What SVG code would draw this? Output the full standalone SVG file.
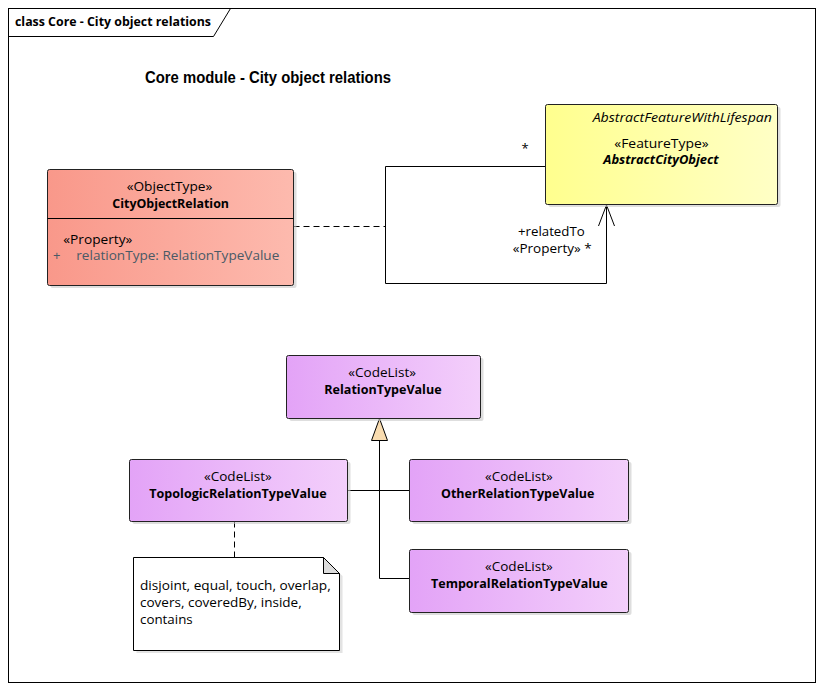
<svg xmlns="http://www.w3.org/2000/svg" width="824" height="690" viewBox="0 0 824 690">
<style>
text{font-family:"Open Sans","Noto Sans","DejaVu Sans",sans-serif;font-size:13px;fill:#000}
.b{font-weight:bold}
.c{text-anchor:middle}
.g{fill:#4a5a66}
.box{stroke:#222;stroke-width:1}
.sh{fill:#c8c8c8;opacity:0.6}
.ln{fill:none;stroke:#000;stroke-width:1}
.dash{fill:none;stroke:#000;stroke-width:1;stroke-dasharray:6,4}
</style>
<defs>
<linearGradient id="gr" x1="0" y1="0" x2="1" y2="0"><stop offset="0" stop-color="#f9988a"/><stop offset="1" stop-color="#fdbaae"/></linearGradient>
<linearGradient id="gy" x1="0" y1="0" x2="1" y2="0"><stop offset="0" stop-color="#ffff8e"/><stop offset="1" stop-color="#ffffc6"/></linearGradient>
<linearGradient id="gp" x1="0" y1="0" x2="1" y2="0"><stop offset="0" stop-color="#e3a3f7"/><stop offset="1" stop-color="#f3cffb"/></linearGradient>
</defs>
<rect x="0" y="0" width="824" height="690" fill="#fff"/>
<g id="frame">
<rect x="8.5" y="8.5" width="807" height="674" fill="none" stroke="#000"/>
<path d="M8.5 36.5 H213.5 L230.5 8.5" class="ln"/>
<text x="15" y="25.5" class="b" textLength="196" lengthAdjust="spacingAndGlyphs">class Core - City object relations</text>
</g>
<text x="145" y="82.5" style="font-family:'Liberation Sans',Arial,sans-serif;font-size:16.5px;font-weight:bold" textLength="246" lengthAdjust="spacingAndGlyphs">Core module - City object relations</text>
<g id="connectors">
<path d="M293.5 226.5 H385.5" class="dash"/>
<path d="M545.5 166.5 H385.5 V283.5 H606.5 V205" class="ln"/>
<path d="M598.5 226 L606.5 205 L614.5 226" class="ln"/>
<text x="525" y="153" class="c">*</text>
<text x="518" y="235.5" textLength="66.7" lengthAdjust="spacingAndGlyphs">+relatedTo</text>
<text x="512.7" y="252.5" textLength="79" lengthAdjust="spacingAndGlyphs">«Property» *</text>
<path d="M379.5 440 V578.5 H409.5" class="ln"/>
<path d="M348 490.5 H409.5" class="ln"/>
<path d="M379.5 418.5 L371.5 440.5 H387.5 Z" fill="#f9dcb0" stroke="#000"/>
<path d="M234.5 521.5 V557.5" class="dash"/>
</g>
<g id="CityObjectRelation">
<rect x="50.5" y="172" width="246" height="116" rx="2" class="sh"/>
<rect x="47.5" y="169.5" width="246" height="116" rx="2" fill="url(#gr)" class="box"/>
<path d="M47.5 218.5 H293.5" class="ln"/>
<text x="126.7" y="191" textLength="85.6" lengthAdjust="spacingAndGlyphs">«ObjectType»</text>
<text x="112.3" y="207.5" class="b" textLength="116.7" lengthAdjust="spacingAndGlyphs">CityObjectRelation</text>
<text x="63.3" y="243.5" textLength="69" lengthAdjust="spacingAndGlyphs">«Property»</text>
<text x="53" y="260" class="g">+</text>
<text x="76.3" y="260" class="g" textLength="203" lengthAdjust="spacingAndGlyphs">relationType: RelationTypeValue</text>
</g>
<g id="AbstractCityObject">
<rect x="548.5" y="107" width="232" height="100" rx="2" class="sh"/>
<rect x="545.5" y="104.5" width="232" height="100" rx="2" fill="url(#gy)" class="box"/>
<text x="592.7" y="122" font-style="italic" textLength="179.3" lengthAdjust="spacingAndGlyphs">AbstractFeatureWithLifespan</text>
<text x="614.3" y="147.5" textLength="94.3" lengthAdjust="spacingAndGlyphs">«FeatureType»</text>
<text x="603.3" y="164" class="b" font-style="italic" textLength="115.3" lengthAdjust="spacingAndGlyphs">AbstractCityObject</text>
</g>
<g id="RelationTypeValue">
<rect x="289.5" y="358" width="194" height="63" rx="2" class="sh"/>
<rect x="286.5" y="355.5" width="194" height="63" rx="2" fill="url(#gp)" class="box"/>
<text x="348.3" y="376.5" textLength="67.7" lengthAdjust="spacingAndGlyphs">«CodeList»</text>
<text x="324.3" y="393.5" class="b" textLength="117.3" lengthAdjust="spacingAndGlyphs">RelationTypeValue</text>
</g>
<g id="TopologicRelationTypeValue">
<rect x="132.5" y="462" width="218" height="62" rx="2" class="sh"/>
<rect x="129.5" y="459.5" width="218" height="62" rx="2" fill="url(#gp)" class="box"/>
<text x="204" y="481" textLength="67.7" lengthAdjust="spacingAndGlyphs">«CodeList»</text>
<text x="149.3" y="498" class="b" textLength="177.3" lengthAdjust="spacingAndGlyphs">TopologicRelationTypeValue</text>
</g>
<g id="OtherRelationTypeValue">
<rect x="412.5" y="462" width="219" height="62" rx="2" class="sh"/>
<rect x="409.5" y="459.5" width="219" height="62" rx="2" fill="url(#gp)" class="box"/>
<text x="485" y="481" textLength="67.7" lengthAdjust="spacingAndGlyphs">«CodeList»</text>
<text x="441" y="498" class="b" textLength="153.3" lengthAdjust="spacingAndGlyphs">OtherRelationTypeValue</text>
</g>
<g id="TemporalRelationTypeValue">
<rect x="412.5" y="552" width="219" height="63" rx="2" class="sh"/>
<rect x="409.5" y="549.5" width="219" height="63" rx="2" fill="url(#gp)" class="box"/>
<text x="485" y="571" textLength="67.7" lengthAdjust="spacingAndGlyphs">«CodeList»</text>
<text x="431" y="588" class="b" textLength="176.7" lengthAdjust="spacingAndGlyphs">TemporalRelationTypeValue</text>
</g>
<g id="note">
<path d="M136.5 560 H326.5 L342.5 576 V653 H136.5 Z" fill="#d0d0d0" opacity="0.6"/>
<path d="M133.5 557.5 H323.5 L339.5 573.5 V650.5 H133.5 Z" fill="#fff" stroke="#000"/>
<path d="M323.5 557.5 V573.5 H339.5 Z" fill="#dcdcdc" stroke="#000"/>
<text x="140" y="589.5" textLength="190.7" lengthAdjust="spacingAndGlyphs">disjoint, equal, touch, overlap,</text>
<text x="140" y="606.5" textLength="161.7" lengthAdjust="spacingAndGlyphs">covers, coveredBy, inside,</text>
<text x="140" y="623.5" textLength="52.7" lengthAdjust="spacingAndGlyphs">contains</text>
</g>
</svg>
